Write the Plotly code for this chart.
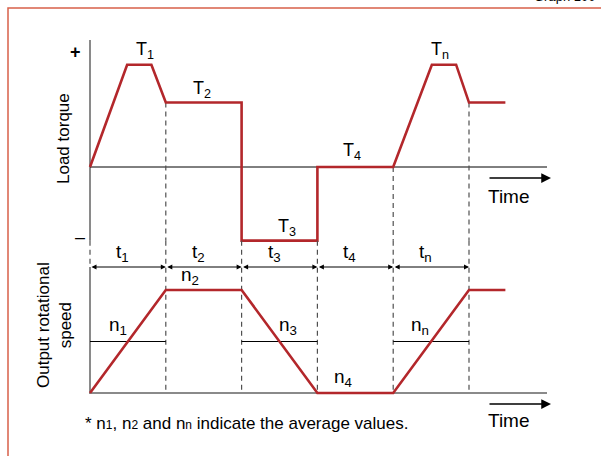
import plotly.graph_objects as go

W, H = 601, 456

# time axis: one unit per interval t1..tn
t_edges = [0, 1, 2, 3, 4, 5]
interval_labels = ["t<sub>1</sub>", "t<sub>2</sub>", "t<sub>3</sub>", "t<sub>4</sub>", "t<sub>n</sub>"]

# load torque profile (peak torque = 1)
torque_t = [0, 0.49, 0.81, 1, 2, 2, 3, 3, 4, 4.51, 4.83, 5, 5.48]
torque_v = [0, 1, 1, 0.63, 0.63, -0.72, -0.72, 0, 0, 1, 1, 0.63, 0.63]
torque_names = ["T<sub>1</sub>", "T<sub>2</sub>", "T<sub>3</sub>", "T<sub>4</sub>", "T<sub>n</sub>"]
torque_label_t = [0.73, 1.48, 2.60, 3.46, 4.62]
torque_label_v = [1.14, 0.76, -0.59, 0.15, 1.14]

# output rotational speed profile (n2 = 1)
speed_t = [0, 1, 2, 3, 4, 5, 5.48]
speed_v = [0, 1, 1, 0, 0, 1, 1]
speed_names = ["n<sub>1</sub>", "n<sub>2</sub>", "n<sub>3</sub>", "n<sub>4</sub>", "n<sub>n</sub>"]
speed_label_t = [0.37, 1.32, 2.61, 3.34, 4.35]
speed_label_v = [0.65, 1.14, 0.65, 0.15, 0.65]
# average speed on the ramp intervals
avg_spans = [(0, 1), (2, 3), (4, 5)]
avg_speed = 0.5

# pixel anchors of the drawing
X0_PX, X_UNIT = 90, 75.8
TQ0_PX, TQ_UNIT = 167, 102.3
SP0_PX, SP_UNIT = 393, 103

RED = "#b3272b"
GRAY = "#8a8a8a"
FONT = "Liberation Sans, Arial, sans-serif"


def px_t(p):
    return (p - X0_PX) / X_UNIT


def px_tq(p):
    return (TQ0_PX - p) / TQ_UNIT


def px_sp(p):
    return (SP0_PX - p) / SP_UNIT


torque_axis_top = px_tq(40)
torque_floor = min(torque_v)
speed_top = px_sp(267)
speed_at_floor = px_sp(TQ0_PX - torque_floor * TQ_UNIT)
axis_end = px_t(547)

fig = go.Figure()

# torque panel axes
fig.add_trace(go.Scatter(x=[0, 0], y=[torque_axis_top, torque_floor], mode="lines",
                         line=dict(color=GRAY, width=2), yaxis="y"))
fig.add_trace(go.Scatter(x=[0, axis_end], y=[0, 0], mode="lines",
                         line=dict(color="black", width=1), yaxis="y"))
# speed panel axes
fig.add_trace(go.Scatter(x=[0, 0, axis_end], y=[speed_top, 0, 0], mode="lines",
                         line=dict(color=GRAY, width=2), yaxis="y2"))

# dashed interval boundaries
dash = dict(color="#505050", width=1.2, dash="5px,4px")
start_levels = [torque_floor, 0.63, torque_floor, torque_floor, 0, 0.63]
for t, lv in zip(t_edges, start_levels):
    if lv > torque_floor:
        fig.add_trace(go.Scatter(x=[t, t], y=[lv, torque_floor], mode="lines",
                                 line=dash, yaxis="y"))
    low = speed_top if t == 0 else 0
    fig.add_trace(go.Scatter(x=[t, t], y=[speed_at_floor, low], mode="lines",
                             line=dash, yaxis="y2"))

# average speed lines
for a, b in avg_spans:
    fig.add_trace(go.Scatter(x=[a, b], y=[avg_speed, avg_speed], mode="lines",
                             line=dict(color="black", width=1), yaxis="y2"))

# profiles
fig.add_trace(go.Scatter(x=torque_t, y=torque_v, mode="lines",
                         line=dict(color=RED, width=2.6), yaxis="y"))
fig.add_trace(go.Scatter(x=speed_t, y=speed_v, mode="lines",
                         line=dict(color=RED, width=2.6), yaxis="y2"))

ann = []
lab = dict(size=17, color="black", family=FONT)
big = dict(size=19, color="black", family=FONT)
mid = dict(xanchor="center", yanchor="middle", showarrow=False)
for name, x, y in zip(torque_names, torque_label_t, torque_label_v):
    ann.append(dict(x=x, y=y, xref="x", yref="y", text=name,
                    font=dict(size=18, color="black", family=FONT), **mid))
for name, x, y in zip(speed_names, speed_label_t, speed_label_v):
    ann.append(dict(x=x, y=y, xref="x", yref="y2", text=name, font=big, **mid))

# interval arrows
for i, name in enumerate(interval_labels):
    a, b = t_edges[i], t_edges[i + 1]
    ann.append(dict(x=b, y=speed_top, ax=a, ay=speed_top, xref="x", yref="y2",
                    axref="x", ayref="y2", text="", showarrow=True, arrowside="end+start",
                    arrowhead=2, arrowsize=1, arrowwidth=1, arrowcolor="black"))
    ann.append(dict(x=a + 0.43, y=px_sp(253), xref="x", yref="y2", text=name,
                    font=big, **mid))

# time arrows
for yr, yv, ty in [("y", px_tq(178), px_tq(196)), ("y2", px_sp(404), px_sp(420))]:
    ann.append(dict(x=px_t(551), y=yv, ax=px_t(488), ay=yv, xref="x", yref=yr,
                    axref="x", ayref=yr, text="", showarrow=True, arrowhead=2,
                    arrowsize=1.5, arrowwidth=1.3, arrowcolor="black"))
    ann.append(dict(x=px_t(509), y=ty, xref="x", yref=yr, text="Time",
                    font=dict(size=19, color="black", family=FONT), **mid))

# axis titles and signs
ann.append(dict(x=63 / W, y=1 - 139 / H, xref="paper", yref="paper", text="Load torque",
                textangle=-90, font=lab, **mid))
ann.append(dict(x=54 / W, y=1 - 325 / H, xref="paper", yref="paper",
                text="Output rotational<br>speed", textangle=-90, font=lab, **mid))
ann.append(dict(x=75.5 / W, y=px_tq(52), xref="paper", yref="y", text="<b>+</b>",
                font=dict(size=18, color="black", family=FONT), **mid))
ann.append(dict(x=79.5 / W, y=px_tq(237), xref="paper", yref="y", text="\u2013",
                font=dict(size=18, color="black", family=FONT), **mid))

# footnote and cut-off graph number
sub = '<span style="font-size:12px">%s</span>'
note = "* n%s, n%s and n%s indicate the average values." % (sub % "1", sub % "2", sub % "n")
ann.append(dict(x=83 / W, y=1 - 423 / H, xref="paper", yref="paper", xanchor="left",
                yanchor="middle", text=note, showarrow=False,
                font=dict(size=17, color="black", family=FONT)))
ann.append(dict(x=597 / W, y=1 - 6 / H, xref="paper", yref="paper", xanchor="right",
                yanchor="bottom", text="Graph 100", showarrow=False,
                font=dict(size=13, color="black", family=FONT)))

fig.update_layout(
    width=W, height=H,
    margin=dict(l=0, r=0, t=0, b=0),
    paper_bgcolor="white", plot_bgcolor="white",
    showlegend=False,
    xaxis=dict(range=[px_t(0), px_t(W)], visible=False, fixedrange=True),
    yaxis=dict(range=[px_tq(H), px_tq(0)], visible=False, fixedrange=True),
    yaxis2=dict(range=[px_sp(H), px_sp(0)], visible=False, overlaying="y", fixedrange=True),
    annotations=ann,
    shapes=[dict(type="rect", xref="paper", yref="paper", x0=8 / W, x1=1 + 10 / W,
                 y0=-10 / H, y1=1 - 8 / H, line=dict(color="#d8604a", width=1.5))],
)

fig.write_html("out.html", config={"displayModeBar": False},
               post_script="document.body.style.margin='0';document.body.style.overflow='hidden';")
